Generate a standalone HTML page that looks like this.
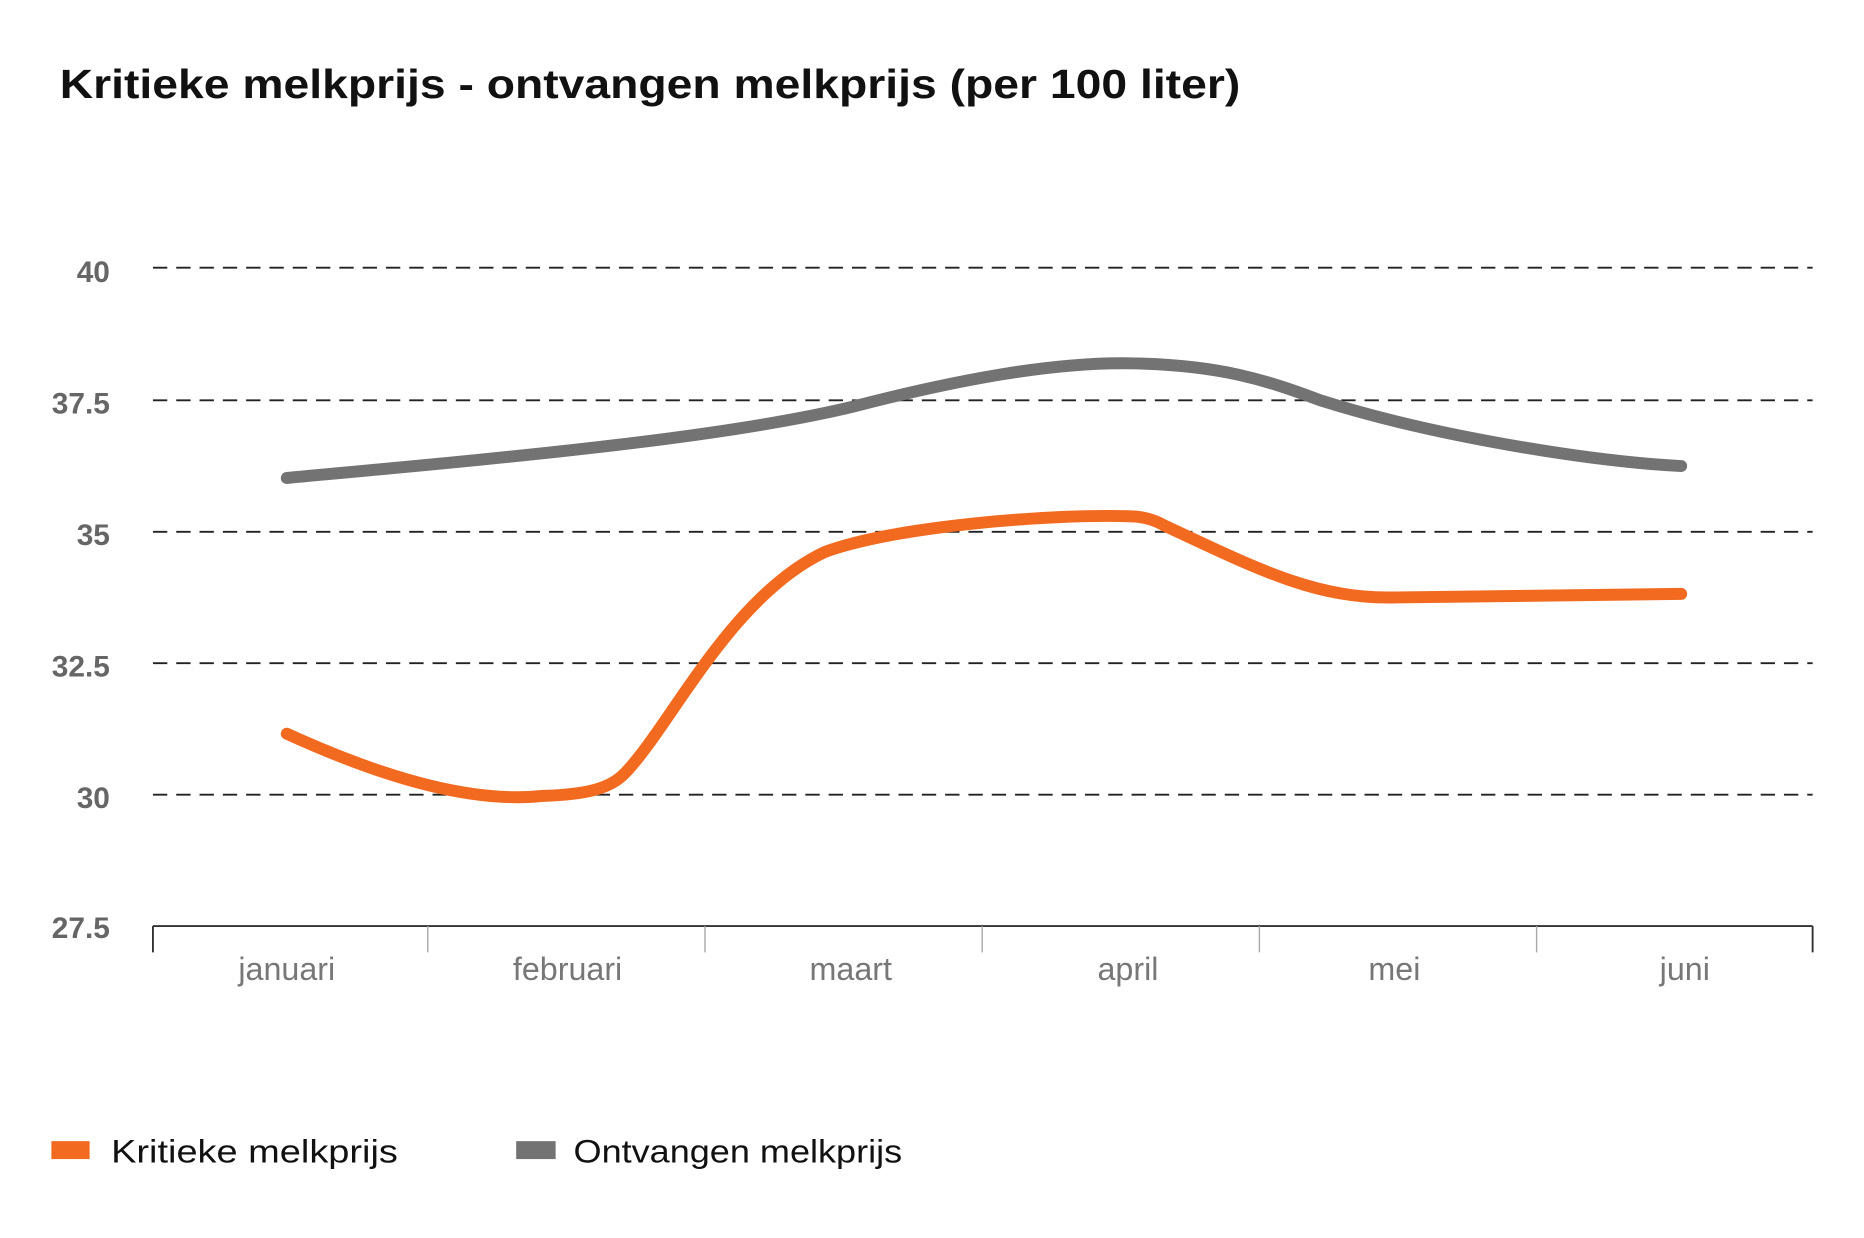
<!DOCTYPE html>
<html><head><meta charset="utf-8"><style>
html,body{margin:0;padding:0;background:#fff;}
svg{display:block;}
</style></head><body>
<svg width="1864" height="1238" viewBox="0 0 1560 1036" xmlns="http://www.w3.org/2000/svg" font-family="'Liberation Sans', sans-serif">
<rect width="1560" height="1036" fill="#fff"/>
<text x="50" y="82" font-size="34" font-weight="bold" fill="#111" textLength="988" lengthAdjust="spacingAndGlyphs">Kritieke melkprijs - ontvangen melkprijs (per 100 liter)</text>
<g stroke="#222" stroke-width="1.6" stroke-dasharray="12 7.5">
<line x1="128" y1="224" x2="1517" y2="224"/>
<line x1="128" y1="335" x2="1517" y2="335"/>
<line x1="128" y1="445" x2="1517" y2="445"/>
<line x1="128" y1="555" x2="1517" y2="555"/>
<line x1="128" y1="665" x2="1517" y2="665"/>
</g>
<g stroke="#333" stroke-width="1.6" fill="none">
<line x1="128" y1="775" x2="1517" y2="775"/>
<line x1="128" y1="775" x2="128" y2="797"/>
<line x1="1517" y1="775" x2="1517" y2="797"/>
</g>
<g stroke="#aaa" stroke-width="1.2">
<line x1="358" y1="775" x2="358" y2="797"/>
<line x1="590" y1="775" x2="590" y2="797"/>
<line x1="822" y1="775" x2="822" y2="797"/>
<line x1="1054" y1="775" x2="1054" y2="797"/>
<line x1="1286" y1="775" x2="1286" y2="797"/>
</g>
<g font-size="25" fill="#666" text-anchor="end" font-weight="bold">
<text x="92" y="236">40</text>
<text x="92" y="346">37.5</text>
<text x="92" y="456">35</text>
<text x="92" y="566">32.5</text>
<text x="92" y="676">30</text>
<text x="92" y="785">27.5</text>
</g>
<g font-size="27" fill="#777" text-anchor="middle">
<text x="240" y="820">januari</text>
<text x="475" y="820">februari</text>
<text x="712" y="820">maart</text>
<text x="944" y="820">april</text>
<text x="1167" y="820">mei</text>
<text x="1410" y="820">juni</text>
</g>
<path d="M240,400 C400,385 600,368 715,340 C800,318 880,303 945,304 C1020,305 1060,318 1105,335 C1200,365 1330,386 1407,390" stroke="#737373" stroke-width="10" fill="none" stroke-linecap="round"/>
<path d="M240,614 C330,655 400,672 455,666 C490,665 510,660 522,648 C560,610 610,500 690,462 C750,440 880,430 945,432 C958,432 968,436 975,440 C1050,475 1100,501 1165,500 L1407,497" stroke="#f26a1f" stroke-width="10" fill="none" stroke-linecap="round" stroke-linejoin="round"/>
<rect x="43" y="955" width="32" height="15" fill="#f26a1f"/>
<text x="93" y="973" font-size="27" fill="#111" textLength="240" lengthAdjust="spacingAndGlyphs">Kritieke melkprijs</text>
<rect x="432" y="955" width="33" height="15" fill="#737373"/>
<text x="480" y="973" font-size="27" fill="#111" textLength="275" lengthAdjust="spacingAndGlyphs">Ontvangen melkprijs</text>
</svg>
</body></html>
